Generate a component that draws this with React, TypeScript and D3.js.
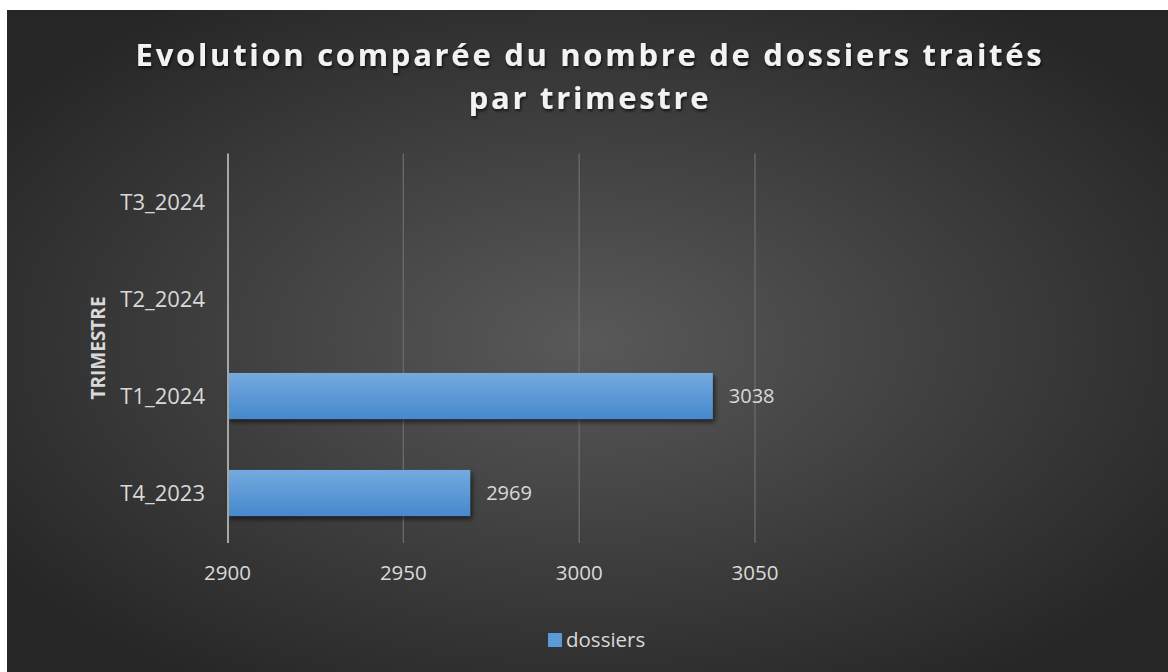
import React, { useEffect, useRef } from 'react';
import * as d3 from 'd3';

const categories = ['T4_2023', 'T1_2024', 'T2_2024', 'T3_2024'];
const dossiers: (number | null)[] = [2969, 3038, null, null];
const xTicks = [2900, 2950, 3000, 3050];
const titleLines = ['Evolution comparée du nombre de dossiers traités', 'par trimestre'];
const seriesName = 'dossiers';
const axisTitle = 'TRIMESTRE';

const App = () => {
    const chartRef = useRef<SVGSVGElement | null>(null);

    useEffect(() => {
        document.body.style.margin = '0';
        const W = 1168;
        const H = 672;
        const svg = d3.select(chartRef.current);
        svg.selectAll('*').remove();

        const defs = svg.append('defs');
        const bg = defs
            .append('radialGradient')
            .attr('id', 'bg')
            .attr('cx', '50%')
            .attr('cy', '50%')
            .attr('r', '62%');
        bg.append('stop').attr('offset', '0%').attr('stop-color', '#595959');
        bg.append('stop').attr('offset', '100%').attr('stop-color', '#262626');

        const barGrad = defs
            .append('linearGradient')
            .attr('id', 'bar')
            .attr('x1', 0)
            .attr('y1', 0)
            .attr('x2', 0)
            .attr('y2', 1);
        barGrad.append('stop').attr('offset', '0%').attr('stop-color', '#74aade');
        barGrad.append('stop').attr('offset', '100%').attr('stop-color', '#4689cd');

        const shadow = defs.append('filter').attr('id', 'shadow').attr('x', '-10%').attr('y', '-30%').attr('width', '130%').attr('height', '180%');
        shadow
            .append('feDropShadow')
            .attr('dx', 2)
            .attr('dy', 3)
            .attr('stdDeviation', 2.5)
            .attr('flood-color', '#000')
            .attr('flood-opacity', 0.6);

        const tshadow = defs.append('filter').attr('id', 'tshadow').attr('x', '-5%').attr('y', '-30%').attr('width', '110%').attr('height', '170%');
        tshadow
            .append('feDropShadow')
            .attr('dx', 1)
            .attr('dy', 2)
            .attr('stdDeviation', 1.5)
            .attr('flood-color', '#000')
            .attr('flood-opacity', 0.7);

        svg.append('rect').attr('width', W).attr('height', H).attr('fill', '#fff');
        svg.append('rect').attr('x', 7).attr('y', 10).attr('width', W - 7).attr('height', H - 10).attr('fill', 'url(#bg)');

        const font = "'Open Sans', sans-serif";

        // Title
        svg
            .append('g')
            .selectAll('text')
            .data(titleLines)
            .enter()
            .append('text')
            .attr('x', 590)
            .attr('y', (d, i) => 66 + i * 43)
            .attr('text-anchor', 'middle')
            .attr('font-family', font)
            .attr('font-weight', 700)
            .attr('font-size', 31)
            .attr('letter-spacing', 2.7)
            .attr('fill', '#f2f2f2')
            .attr('filter', 'url(#tshadow)')
            .text((d) => d);

        const x = d3.scaleLinear().domain([2900, 3050]).range([227.5, 755]);
        const y = d3.scaleBand().domain(categories.slice().reverse()).range([153.5, 541.5]).paddingInner(0.525).paddingOuter(0.2625);

        // Gridlines
        svg
            .append('g')
            .selectAll('line')
            .data(xTicks.slice(1))
            .enter()
            .append('line')
            .attr('x1', (d) => x(d))
            .attr('x2', (d) => x(d))
            .attr('y1', 153.5)
            .attr('y2', 543)
            .attr('stroke', '#6b6b6b')
            .attr('stroke-width', 1.3);

        // Bars
        const data = categories.map((c, i) => ({ cat: c, value: dossiers[i] })).filter((d) => d.value != null);
        svg
            .append('g')
            .selectAll('rect')
            .data(data)
            .enter()
            .append('rect')
            .attr('x', x(2900))
            .attr('y', (d) => y(d.cat)!)
            .attr('width', (d) => x(d.value as number) - x(2900))
            .attr('height', y.bandwidth())
            .attr('fill', 'url(#bar)')
            .attr('filter', 'url(#shadow)');

        // Data labels
        svg
            .append('g')
            .selectAll('text')
            .data(data)
            .enter()
            .append('text')
            .attr('x', (d) => x(d.value as number) + 16)
            .attr('y', (d) => y(d.cat)! + y.bandwidth() / 2)
            .attr('dy', '0.35em')
            .attr('font-family', font)
            .attr('font-size', 20)
            .attr('fill', '#d9d9d9')
            .text((d) => d.value as number);

        // Vertical axis line
        svg
            .append('line')
            .attr('x1', 228)
            .attr('x2', 228)
            .attr('y1', 153.5)
            .attr('y2', 543)
            .attr('stroke', '#a6a6a6')
            .attr('stroke-width', 2);

        // Category labels
        svg
            .append('g')
            .selectAll('text')
            .data(categories)
            .enter()
            .append('text')
            .attr('x', 205)
            .attr('y', (d) => y(d)! + y.bandwidth() / 2)
            .attr('dy', '0.35em')
            .attr('text-anchor', 'end')
            .attr('font-family', font)
            .attr('font-size', 22)
            .attr('fill', '#d9d9d9')
            .text((d) => d);

        // X tick labels
        svg
            .append('g')
            .selectAll('text')
            .data(xTicks)
            .enter()
            .append('text')
            .attr('x', (d) => x(d))
            .attr('y', 573)
            .attr('dy', '0.35em')
            .attr('text-anchor', 'middle')
            .attr('font-family', font)
            .attr('font-size', 20.5)
            .attr('fill', '#d9d9d9')
            .text((d) => d);

        // Axis title
        svg
            .append('text')
            .attr('transform', 'translate(98,348) rotate(-90)')
            .attr('dy', '0.35em')
            .attr('text-anchor', 'middle')
            .attr('font-family', font)
            .attr('font-weight', 700)
            .attr('font-size', 19)
            .attr('fill', '#d9d9d9')
            .text(axisTitle);

        // Legend
        const legend = svg.append('g');
        legend.append('rect').attr('x', 548).attr('y', 633).attr('width', 14).attr('height', 14).attr('fill', '#5b9bd5');
        legend
            .append('text')
            .attr('x', 566)
            .attr('y', 640)
            .attr('dy', '0.35em')
            .attr('font-family', font)
            .attr('font-size', 20.5)
            .attr('fill', '#d9d9d9')
            .text(seriesName);
    }, []);

    return <svg ref={chartRef} width={1168} height={672} style={{ display: 'block' }}></svg>;
};

export default App;
